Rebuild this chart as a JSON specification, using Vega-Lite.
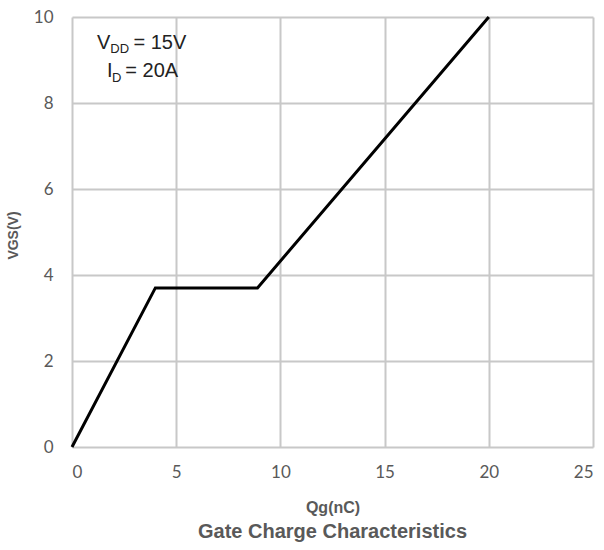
{
  "$schema": "https://vega.github.io/schema/vega-lite/v6.json",
  "width": 521,
  "height": 430,
  "autosize": {"type": "none"},
  "padding": {"left": 72, "top": 17, "right": 11, "bottom": 103},
  "background": "white",
  "config": {"view": {"stroke": null}},
  "title": {
    "text": "Gate Charge Characteristics",
    "orient": "bottom",
    "anchor": "middle",
    "font": "Liberation Sans",
    "fontWeight": "bold",
    "fontSize": 20,
    "color": "#595959",
    "offset": 7
  },
  "datasets": {
    "curve": [
      {"qg": 0, "vgs": 0},
      {"qg": 4, "vgs": 3.7},
      {"qg": 8.9, "vgs": 3.7},
      {"qg": 20, "vgs": 10}
    ],
    "main": [
      {"label": "V", "qg": 1.2, "vgs": 9.26},
      {"label": "= 15V", "qg": 2.95, "vgs": 9.26},
      {"label": "I", "qg": 1.68, "vgs": 8.6},
      {"label": "= 20A", "qg": 2.56, "vgs": 8.6}
    ],
    "sub": [
      {"label": "DD", "qg": 1.84, "vgs": 9.16},
      {"label": "D", "qg": 1.92, "vgs": 8.49}
    ]
  },
  "layer": [
    {
      "data": {"name": "curve"},
      "mark": {"type": "line", "color": "black", "strokeWidth": 3},
      "encoding": {
        "x": {
          "field": "qg", "type": "quantitative",
          "scale": {"domain": [0, 25], "nice": false},
          "axis": {
            "values": [0, 5, 10, 15, 20, 25],
            "title": "Qg(nC)",
            "titleFont": "Liberation Sans", "titleFontWeight": "bold", "titleFontSize": 16, "titleColor": "#595959",
            "titleY": 52,
            "labelFont": "Lato", "labelFontSize": 17, "labelColor": "#595959", "labelPadding": 17,
            "domain": false, "ticks": false,
            "grid": true, "gridColor": "#c8c8c8", "gridWidth": 2
          }
        },
        "y": {
          "field": "vgs", "type": "quantitative",
          "scale": {"domain": [0, 10], "nice": false},
          "axis": {
            "values": [0, 2, 4, 6, 8, 10],
            "title": "VGS(V)",
            "titleFont": "Liberation Sans", "titleFontWeight": "bold", "titleFontSize": 14, "titleColor": "#595959",
            "titleX": -52, "titleY": 218,
            "labelFont": "Lato", "labelFontSize": 17, "labelColor": "#595959", "labelPadding": 19,
            "domain": false, "ticks": false,
            "grid": true, "gridColor": "#c8c8c8", "gridWidth": 2
          }
        }
      }
    },
    {
      "data": {"name": "main"},
      "mark": {"type": "text", "align": "left", "baseline": "alphabetic", "font": "Liberation Sans", "fontSize": 20, "color": "#222222"},
      "encoding": {
        "x": {"field": "qg", "type": "quantitative"},
        "y": {"field": "vgs", "type": "quantitative"},
        "text": {"field": "label"}
      }
    },
    {
      "data": {"name": "sub"},
      "mark": {"type": "text", "align": "left", "baseline": "alphabetic", "font": "Liberation Sans", "fontSize": 13, "color": "#222222"},
      "encoding": {
        "x": {"field": "qg", "type": "quantitative"},
        "y": {"field": "vgs", "type": "quantitative"},
        "text": {"field": "label"}
      }
    }
  ]
}
